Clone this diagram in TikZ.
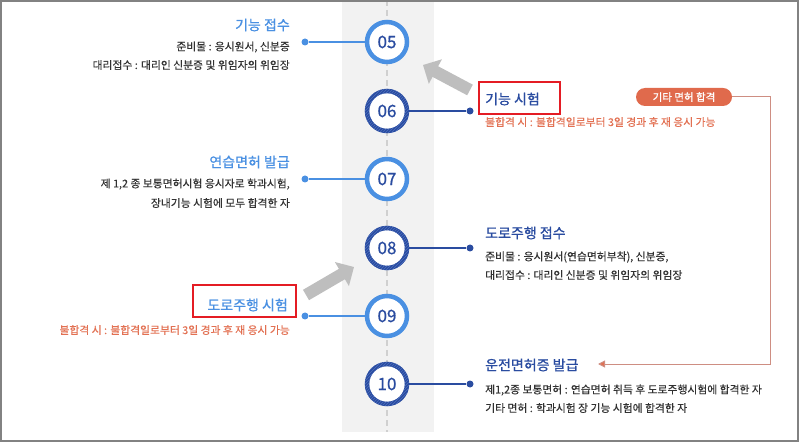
\documentclass[tikz,border=0pt]{standalone}
\usepackage{fontspec}
\setmainfont{Noto Sans CJK KR}
\newfontfamily\headfont[FakeBold=0.9]{Noto Sans CJK KR}
\newfontfamily\bodyfont[FakeBold=0.35]{Noto Sans CJK KR}
\usetikzlibrary{arrows.meta,patterns}
\definecolor{stepsky}{RGB}{74,144,226}
\definecolor{stepnavy}{RGB}{42,76,160}
\definecolor{stepnavylt}{RGB}{78,112,190}
\definecolor{failorange}{RGB}{226,112,82}
\definecolor{pillorange}{RGB}{224,106,76}
\definecolor{routeline}{RGB}{206,142,130}
\definecolor{boxred}{RGB}{228,28,36}
\definecolor{bandgray}{RGB}{242,242,242}
\definecolor{dashgray}{RGB}{208,208,208}
\definecolor{arrowgray}{RGB}{190,190,190}
\definecolor{framegray}{RGB}{130,130,130}
\definecolor{bodytext}{RGB}{50,50,50}

\begin{document}
\begin{tikzpicture}[x=1pt,y=-1pt,
  stepring/.style={circle,line width=4.5pt,fill=white,minimum size=40pt,inner sep=0pt,
    font=\headfont\fontsize{17}{17}\selectfont,text=stepnavy},
  dot/.style={circle,inner sep=0pt,minimum size=7pt},
  ttl/.style={font=\headfont\fontsize{14}{16}\selectfont,inner sep=0pt},
  txt/.style={font=\bodyfont\fontsize{10.8}{13}\selectfont,text=bodytext,inner sep=0pt},
  fail/.style={font=\bodyfont\fontsize{10.8}{13}\selectfont,text=failorange,inner sep=0pt},
  redbox/.style={draw=boxred,line width=1.6pt},
  bigarrow/.style={arrowgray,line width=12pt,-{Triangle[length=14pt,width=27pt]}}]
  \useasboundingbox (0,0) rectangle (800,443);
  \fill[bandgray] (342,0) rectangle (434,432);
  \draw[dashgray,line width=2pt,dash pattern=on 6pt off 4pt] (387,0) -- (387,432);
  \draw[framegray,line width=1.5pt] (1,1) rectangle (798,441);

  % timeline steps
  \foreach \n/\y/\c in {05/42/stepsky,06/111/stepnavy,07/179/stepsky,08/248/stepnavy,09/316/stepsky,10/384/stepnavy}
    \node[stepring,draw=\c] (c\n) at (387,\y) {\n};
  \foreach \n in {06,08,10}
    \fill[pattern=north east lines,pattern color=stepnavylt,even odd rule]
      (c\n.center) circle (22.2pt) (c\n.center) circle (17.8pt);

  % left side
  \foreach \n/\y in {05/42,07/179,09/316} {
    \node[dot,fill=stepsky] (d\n) at (305,\y) {};
    \draw[stepsky,line width=1.3pt] (c\n) -- (d\n);
  }
  % right side
  \foreach \n/\y in {06/111,08/248,10/384} {
    \node[dot,fill=stepnavy] (d\n) at (470,\y) {};
    \draw[stepnavy,line width=1.3pt] (c\n) -- (d\n);
  }

  \node[ttl,text=stepsky,anchor=east] (t05) at (290,25) {기능 접수};
  \node[txt,anchor=east] at (290,47) {준비물 : 응시원서, 신분증};
  \node[txt,anchor=east] at (290,65) {대리접수 : 대리인 신분증 및 위임자의 위임장};

  \node[ttl,text=stepnavy,anchor=west] (t06) at (485,99) {기능 시험};
  \draw[redbox] (479,82) rectangle (560,114);
  \node[fail,anchor=west] at (485,122) {불합격 시 : 불합격일로부터 3일 경과 후 재 응시 가능};

  \node[ttl,text=stepsky,anchor=east] (t07) at (290,162) {연습면허 발급};
  \node[txt,anchor=east] at (290,184) {제 1,2 종 보통면허시험 응시자로 학과시험,};
  \node[txt,anchor=east] at (290,203) {장내기능 시험에 모두 합격한 자};

  \node[ttl,text=stepnavy,anchor=west] (t08) at (485,233) {도로주행 접수};
  \node[txt,anchor=west] at (485,257) {준비물 : 응시원서(연습면허부착), 신분증,};
  \node[txt,anchor=west] at (485,275) {대리접수 : 대리인 신분증 및 위임자의 위임장};

  \node[ttl,text=stepsky,anchor=east] (t09) at (288,305) {도로주행 시험};
  \draw[redbox] (193,285) rectangle (296,317);
  \node[fail,anchor=east] at (290,330) {불합격 시 : 불합격일로부터 3일 경과 후 재 응시 가능};

  \node[ttl,text=stepnavy,anchor=west] (t10) at (485,365) {운전면허증 발급};
  \node[txt,anchor=west] at (485,390) {제1,2종 보통면허 : 연습면허 취득 후 도로주행시험에 합격한 자};
  \node[txt,anchor=west] at (485,408) {기타 면허 : 학과시험 장 기능 시험에 합격한 자};

  % other licences
  \node[fill=pillorange,text=white,rounded corners=9pt,minimum width=96pt,minimum height=18pt,
    inner sep=0pt,font=\headfont\fontsize{10.5}{12}\selectfont] (etc) at (684,97) {기타 면허 합격};
  \coordinate (route) at (598,364);
  \draw[routeline,line width=1pt,-{Triangle[length=7pt,width=7pt,fill=failorange]}]
    (etc.east) -- (770,97) -- (770,364) -- (route);

  % gray arrows
  \coordinate (g1s) at (470,90);
  \coordinate (g1e) at (423,65);
  \coordinate (g2s) at (306,295);
  \coordinate (g2e) at (354,267);
  \draw[bigarrow] (g1s) -- (g1e);
  \draw[bigarrow] (g2s) -- (g2e);
\end{tikzpicture}
\end{document}
